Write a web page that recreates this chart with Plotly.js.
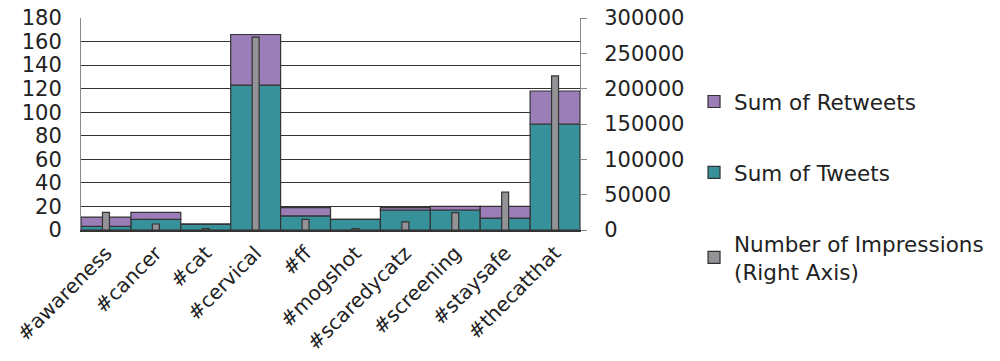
<!DOCTYPE html>
<html><head><meta charset="utf-8">
<script src="https://cdn.plot.ly/plotly-3.0.1.min.js"></script>
<style>body{margin:0;background:#fff}#c{width:1000px;height:361px}</style>
</head><body><div id="c"></div>
<script>
const categories = ["#awareness","#cancer","#cat","#cervical","#ff","#mogshot","#scaredycatz","#screening","#staysafe","#thecatthat"];
const tweets = [3, 9, 5, 123, 12, 9, 17, 17, 10, 90];
const retweets = [8, 6, 0, 43, 7, 0, 2, 3, 10, 28];
const impressions = [25000, 8500, 2000, 273000, 15000, 2000, 11500, 24500, 53500, 218000];
const leftTicks = [0,20,40,60,80,100,120,140,160,180];
const rightTicks = [0,50000,100000,150000,200000,250000,300000];

const font = "DejaVu Sans, sans-serif";
const traces = [
  {type:'bar', name:'Sum of Tweets', x:categories, y:tweets, width:1, legendrank:2, legendgroup:'b',
   marker:{color:'#37919A', line:{color:'#333', width:1.2}}},
  {type:'bar', name:'Sum of Retweets', x:categories, y:retweets, base:tweets, width:1, legendrank:1, legendgroup:'a',
   marker:{color:'#9B7EB8', line:{color:'#333', width:1.2}}},
  {type:'bar', name:'Number of Impressions<br>(Right Axis)', x:categories, y:impressions, yaxis:'y2', width:0.14, legendrank:3, legendgroup:'c',
   marker:{color:'#929297', line:{color:'#333', width:1.2}}}
];
const layout = {
  width:1000, height:361, barmode:'overlay', showlegend:true,
  margin:{l:81, r:420, t:18, b:131, autoexpand:false},
  paper_bgcolor:'#fff', plot_bgcolor:'#fff',
  font:{family:font, size:20, color:'#222'},
  xaxis:{type:'category', tickangle:-45, tickfont:{size:20}, showline:true, linecolor:'#333', linewidth:1.5, ticks:'', range:[-0.5,9.5], ticklabelstandoff:2, automargin:false},
  yaxis:{range:[0,180], tickvals:leftTicks, showgrid:true, gridcolor:'#333', gridwidth:1.2, showline:true, linecolor:'#888', mirror:true,
         ticks:'', ticklabelstandoff:14, tickfont:{size:21}, zeroline:false, automargin:false},
  yaxis2:{range:[0,300000], tickvals:rightTicks, tickformat:'d', overlaying:'y', side:'right', showgrid:false, showline:true, linecolor:'#888',
          ticks:'outside', ticklen:6, tickcolor:'#888', ticklabelstandoff:13, tickfont:{size:21}, zeroline:false, automargin:false},
  legend:{x:1.2285, y:0.205, xanchor:'left', yanchor:'middle', tracegroupgap:40, font:{size:21.5}, itemwidth:30, traceorder:'grouped'}
};
Plotly.newPlot('c', traces, layout, {displayModeBar:false, staticPlot:true});
</script></body></html>
